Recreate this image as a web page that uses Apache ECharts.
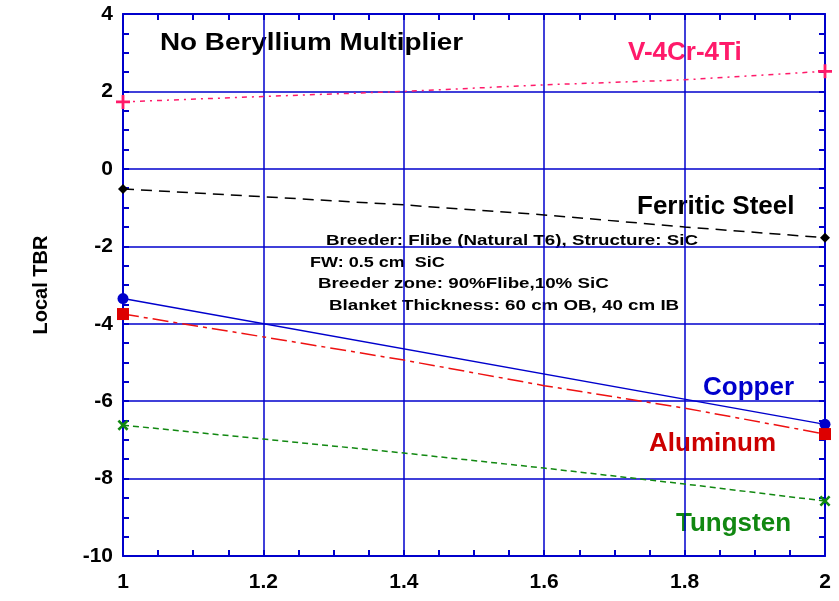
<!DOCTYPE html>
<html>
<head>
<meta charset="utf-8">
<script src="https://cdn.jsdelivr.net/npm/echarts@6/dist/echarts.min.js"></script>
<style>
  html, body { margin: 0; padding: 0; background: #fff; }
  #chart { width: 839px; height: 601px; }
</style>
</head>
<body>
<div id="chart"></div>
<script>
// thickness ratio (x) and local TBR per structure material
var xs = [1, 1.2, 1.4, 1.6, 1.8, 2];
var vanadium = [1.73, 1.87, 2.0, 2.17, 2.3, 2.52];
var ferritic = [-0.52, -0.72, -0.93, -1.19, -1.5, -1.78];
var copperX = [1, 2];
var copper = [-3.35, -6.6];
var aluminum = [-3.75, -4.34, -4.94, -5.6, -6.18, -6.85];
var tungsten = [-6.62, -6.98, -7.34, -7.73, -8.14, -8.58];

var notes = [
  'Breeder: Flibe (Natural T6), Structure: SiC',
  'FW: 0.5 cm  SiC',
  'Breeder zone: 90%Flibe,10% SiC',
  'Blanket Thickness: 60 cm OB, 40 cm IB'
];

var BLUE = '#0000cc';
var FONT = 'Liberation Sans, Arial, sans-serif';
var PLUS = 'path://M4,0H6V4H10V6H6V10H4V6H0V4H4Z';

// markers only on the end points
function endPoints(x, y) {
  var out = [];
  for (var i = 0; i < x.length; i++) {
    if (i == 0 || i == x.length - 1) out.push([x[i], y[i]]);
    else out.push({ value: [x[i], y[i]], symbol: 'none' });
  }
  return out;
}

// the original text is drawn wide, so stretch it a bit
function label(text, x, y, color, size, sx) {
  return {
    type: 'text', x: x, y: y, scaleX: sx || 1,
    style: { text: text, fill: color, font: 'bold ' + size + 'px ' + FONT, verticalAlign: 'top' }
  };
}

var chart = echarts.init(document.getElementById('chart'));

var axisCommon = {
  type: 'value',
  axisLine: { show: true, onZero: false, lineStyle: { color: BLUE, width: 2 } },
  axisTick: { show: true, inside: true, length: 6, lineStyle: { color: BLUE, width: 2 } },
  minorTick: { show: true, splitNumber: 4, length: 6, lineStyle: { color: BLUE, width: 2 } }
};

var option = {
  backgroundColor: '#fff',
  animation: false,
  grid: { left: 123, right: 14, top: 14, bottom: 45 },
  xAxis: [
    Object.assign({}, axisCommon, {
      min: 1, max: 2, interval: 0.2, position: 'bottom',
      axisLabel: { color: '#000', fontWeight: 'bold', fontSize: 21, fontFamily: FONT, margin: 16 },
      splitLine: { show: true, lineStyle: { color: BLUE, width: 1.5 } }
    }),
    Object.assign({}, axisCommon, {
      min: 1, max: 2, interval: 0.2, position: 'top',
      axisLabel: { show: false }, splitLine: { show: false }
    })
  ],
  yAxis: [
    Object.assign({}, axisCommon, {
      min: -10, max: 4, interval: 2, position: 'left',
      name: 'Local TBR', nameLocation: 'middle', nameGap: 72,
      nameTextStyle: { color: '#000', fontWeight: 'bold', fontSize: 20, fontFamily: FONT },
      axisLabel: { color: '#000', fontWeight: 'bold', fontSize: 21, fontFamily: FONT, margin: 10 },
      splitLine: { show: true, lineStyle: { color: BLUE, width: 1.5 } }
    }),
    Object.assign({}, axisCommon, {
      min: -10, max: 4, interval: 2, position: 'right',
      axisLabel: { show: false }, splitLine: { show: false }
    })
  ],
  series: [
    {
      name: 'V-4Cr-4Ti', type: 'line', data: endPoints(xs, vanadium),
      symbol: PLUS, symbolSize: 14,
      itemStyle: { color: '#ff1a6a' },
      lineStyle: { color: '#ff1a6a', width: 1.5, type: [5, 5, 2, 5] }
    },
    {
      name: 'Ferritic Steel', type: 'line', data: endPoints(xs, ferritic),
      symbol: 'diamond', symbolSize: 10,
      itemStyle: { color: '#000' },
      lineStyle: { color: '#000', width: 1.5, type: [11, 7] }
    },
    {
      name: 'Copper', type: 'line', data: endPoints(copperX, copper),
      symbol: 'circle', symbolSize: 11,
      itemStyle: { color: BLUE },
      lineStyle: { color: BLUE, width: 1.5, type: 'solid' }
    },
    {
      name: 'Aluminum', type: 'line', data: endPoints(xs, aluminum),
      symbol: 'rect', symbolSize: 12,
      itemStyle: { color: '#dd0000' },
      lineStyle: { color: '#ee1111', width: 1.5, type: [16, 5, 4, 5] }
    },
    {
      name: 'Tungsten', type: 'line', data: endPoints(xs, tungsten),
      symbol: PLUS, symbolSize: 13, symbolRotate: 45,
      itemStyle: { color: '#118811' },
      lineStyle: { color: '#118811', width: 1.5, type: [6, 4] }
    }
  ],
  graphic: [
    label('No Beryllium Multiplier', 160, 31, '#000', 24, 1.16),
    label('V-4Cr-4Ti', 628, 40, '#ff1a6a', 26),
    label('Ferritic Steel', 637, 194, '#000', 26),
    label('Copper', 703, 375, BLUE, 26),
    label('Aluminum', 649, 431, '#cc0000', 26),
    label('Tungsten', 676, 511, '#118811', 26),
    label(notes[0], 326, 233, '#000', 15, 1.25),
    label(notes[1], 310, 255, '#000', 15, 1.2),
    label(notes[2], 318, 276, '#000', 15, 1.25),
    label(notes[3], 329, 298, '#000', 15, 1.25)
  ]
};

chart.setOption(option);
</script>
</body>
</html>
